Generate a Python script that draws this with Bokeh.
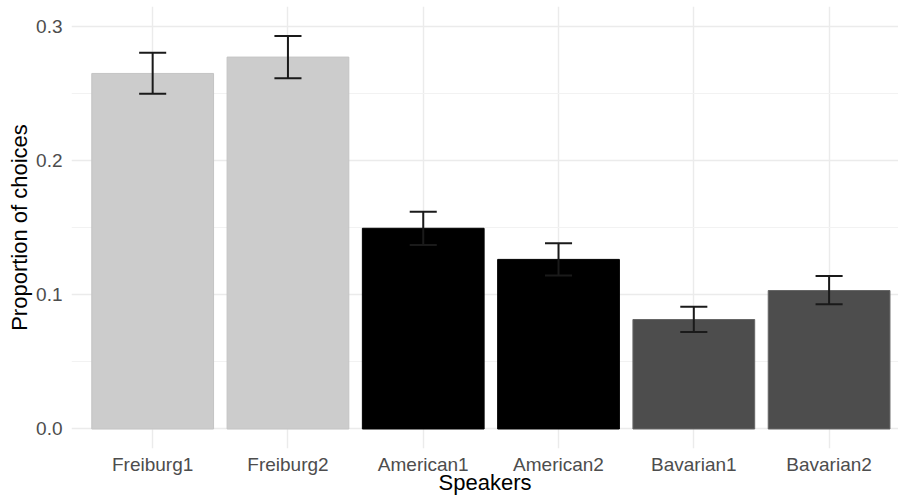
from bokeh.plotting import figure
from bokeh.models import ColumnDataSource, FixedTicker, Range1d
from bokeh.embed import file_html
from bokeh.resources import INLINE

categories = ["Freiburg1", "Freiburg2", "American1", "American2", "Bavarian1", "Bavarian2"]
proportion = [0.2650, 0.2772, 0.1496, 0.1264, 0.0816, 0.1032]
lower = [0.2498, 0.2615, 0.1372, 0.1144, 0.0723, 0.0930]
upper = [0.2805, 0.2929, 0.1620, 0.1384, 0.0912, 0.1141]
fills = ["#CCCCCC", "#CCCCCC", "#000000", "#000000", "#4D4D4D", "#4D4D4D"]
lines = ["#C4C4C4", "#C4C4C4", "#000000", "#000000", "#666666", "#666666"]
y_ticks = [0.0, 0.1, 0.2, 0.3]
y_minor = [0.05, 0.15, 0.25]

xs = list(range(1, len(categories) + 1))
src = ColumnDataSource(dict(x=xs, top=proportion, lo=lower, hi=upper,
                            fill=fills, line=lines,
                            cl=[x - 0.1 for x in xs], cr=[x + 0.1 for x in xs]))

p = figure(frame_width=827, frame_height=442, output_backend="svg", toolbar_location=None,
           x_range=Range1d(0.4, 6.513), y_range=Range1d(-0.01454, 0.3149),
           min_border_left=71, min_border_right=0, min_border_top=6, min_border_bottom=47)
p.outline_line_color = None
p.background_fill_color = "white"

p.vbar(x="x", top="top", bottom=0, width=0.9, fill_color="fill", line_color="line",
       line_width=1, source=src)
p.segment(x0="x", y0="lo", x1="x", y1="hi", line_color="#1a1a1a", line_width=2, source=src)
p.segment(x0="cl", y0="lo", x1="cr", y1="lo", line_color="#1a1a1a", line_width=2, source=src)
p.segment(x0="cl", y0="hi", x1="cr", y1="hi", line_color="#1a1a1a", line_width=2, source=src)

font = "Liberation Sans"
p.xaxis.ticker = FixedTicker(ticks=xs)
p.xaxis.major_label_overrides = {x: c for x, c in zip(xs, categories)}
p.yaxis.ticker = FixedTicker(ticks=y_ticks, minor_ticks=y_minor)
p.yaxis.major_label_overrides = {t: f"{t:.1f}" for t in y_ticks}

for ax in (p.xaxis[0], p.yaxis[0]):
    ax.axis_line_color = None
    ax.major_tick_line_color = None
    ax.minor_tick_line_color = None
    ax.major_tick_out = 0
    ax.minor_tick_out = 0
    ax.major_label_text_font = font
    ax.major_label_text_font_size = "19px"
    ax.major_label_text_color = "#4D4D4D"
    ax.axis_label_text_font = font
    ax.axis_label_text_font_size = "22px"
    ax.axis_label_text_font_style = "normal"
    ax.axis_label_text_color = "#000000"

p.xaxis.axis_label = "Speakers"
p.yaxis.axis_label = "Proportion of choices"
p.xaxis.major_label_standoff = 5
p.xaxis.axis_label_standoff = -8
p.yaxis.major_label_standoff = 9
p.yaxis.axis_label_standoff = 1

p.xgrid.ticker = FixedTicker(ticks=xs)
p.xgrid.grid_line_color = "#EBEBEB"
p.xgrid.grid_line_width = 1.4
p.ygrid.ticker = FixedTicker(ticks=y_ticks, minor_ticks=y_minor)
p.ygrid.grid_line_color = "#EBEBEB"
p.ygrid.grid_line_width = 1.4
p.ygrid.minor_grid_line_color = "#F2F2F2"
p.ygrid.minor_grid_line_width = 1.2

open("out.html", "w").write(file_html(p, INLINE))
